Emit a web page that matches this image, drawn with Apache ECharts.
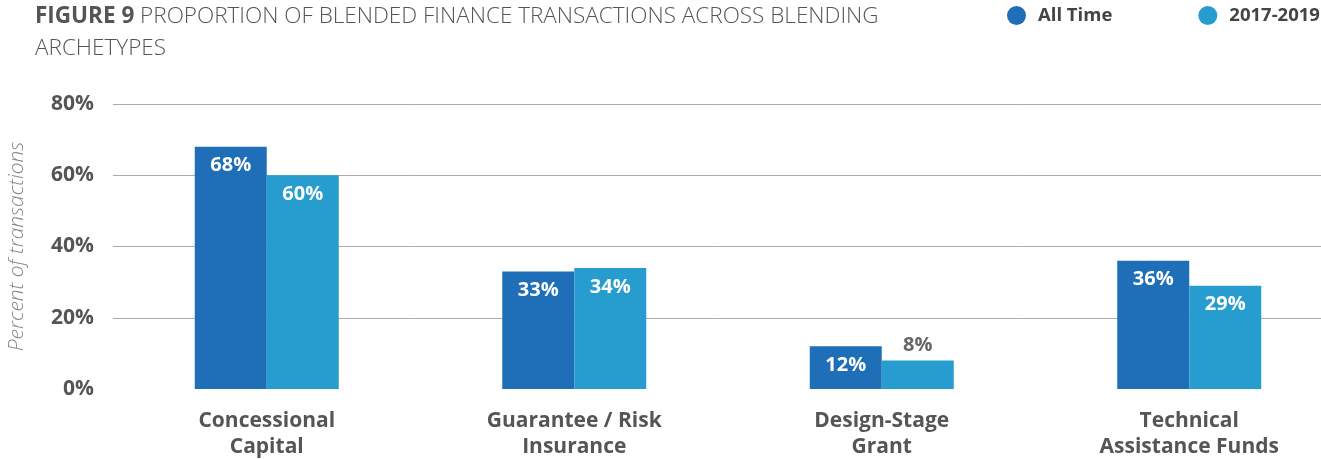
<!DOCTYPE html>
<html>
<head>
<meta charset="utf-8">
<script src="https://cdn.jsdelivr.net/npm/echarts@6/dist/echarts.min.js"></script>
<style>
  body { margin: 0; background: #fff; }
  .chart { width: 1321px; height: 459px; }
</style>
</head>
<body>
<div class="chart"></div>
<script>
var categories = ['Concessional\nCapital', 'Guarantee / Risk\nInsurance', 'Design-Stage\nGrant', 'Technical\nAssistance Funds'];
var allTime = [68, 33, 12, 36];
var recent = [60, 34, 8, 29];
var yTicks = [0, 20, 40, 60, 80];

// 柱状图
(function () {
  var myChart = echarts.init(document.querySelector('.chart'))
  var font = 'Open Sans'

  // 柱子标签：太矮的放在上面
  function barData(arr) {
    return arr.map(function (v) {
      if (v < 10) {
        return {
          value: v,
          label: { position: 'top', color: '#666', distance: 5 }
        }
      }
      return v
    })
  }

  var option = {
    animation: false,
    color: ['#1e6fb8', '#279dcf'],
    title: {
      text: '{b|FIGURE 9} PROPORTION OF BLENDED FINANCE TRANSACTIONS ACROSS BLENDING\nARCHETYPES',
      left: 30,
      top: -4,
      textStyle: {
        fontFamily: font,
        fontSize: 22.5,
        fontWeight: 300,
        color: '#555',
        lineHeight: 32,
        rich: {
          b: { fontFamily: font, fontSize: 22.5, fontWeight: 'bold', color: '#555', lineHeight: 32 }
        }
      }
    },
    legend: {
      data: ['All Time', '2017-2019'],
      top: 6,
      left: 1007,
      width: 400,
      padding: 0,
      icon: 'circle',
      itemWidth: 33,
      itemHeight: 19,
      itemGap: 86,
      textStyle: {
        fontFamily: font,
        fontSize: 18.5,
        fontWeight: 'bold',
        color: '#444'
      }
    },
    grid: {
      left: 113,
      right: -22,
      top: 104,
      bottom: 70,
      outerBoundsMode: 'none'
    },
    xAxis: {
      type: 'category',
      data: categories,
      axisTick: { show: false },
      axisLine: { show: false },
      axisLabel: {
        fontFamily: font,
        fontSize: 21,
        fontWeight: 'bold',
        color: '#555',
        lineHeight: 26,
        margin: 19
      }
    },
    yAxis: {
      type: 'value',
      min: yTicks[0],
      max: yTicks[yTicks.length - 1],
      interval: 20,
      name: 'Percent of transactions',
      nameLocation: 'middle',
      nameGap: 85,
      nameTextStyle: {
        fontFamily: font,
        fontSize: 21,
        fontStyle: 'italic',
        fontWeight: 300,
        color: '#888'
      },
      axisLabel: {
        fontFamily: font,
        fontSize: 21,
        fontWeight: 'bold',
        color: '#555',
        margin: 19,
        formatter: '{value}%'
      },
      splitLine: {
        showMinLine: false,
        lineStyle: { color: '#aaa', width: 1 }
      }
    },
    series: [{
      name: 'All Time',
      type: 'bar',
      data: barData(allTime),
      barWidth: 72,
      barGap: '0%',
      label: {
        show: true,
        position: 'insideTop',
        distance: 9,
        formatter: '{c}%',
        fontFamily: font,
        fontSize: 20,
        fontWeight: 'bold',
        color: '#fff'
      }
    }, {
      name: '2017-2019',
      type: 'bar',
      data: barData(recent),
      barWidth: 72,
      barGap: '0%',
      label: {
        show: true,
        position: 'insideTop',
        distance: 9,
        formatter: '{c}%',
        fontFamily: font,
        fontSize: 20,
        fontWeight: 'bold',
        color: '#fff'
      }
    }]
  }
  myChart.setOption(option)
  window.addEventListener('resize', function () {
    myChart.resize()
  })
})()
</script>
</body>
</html>
